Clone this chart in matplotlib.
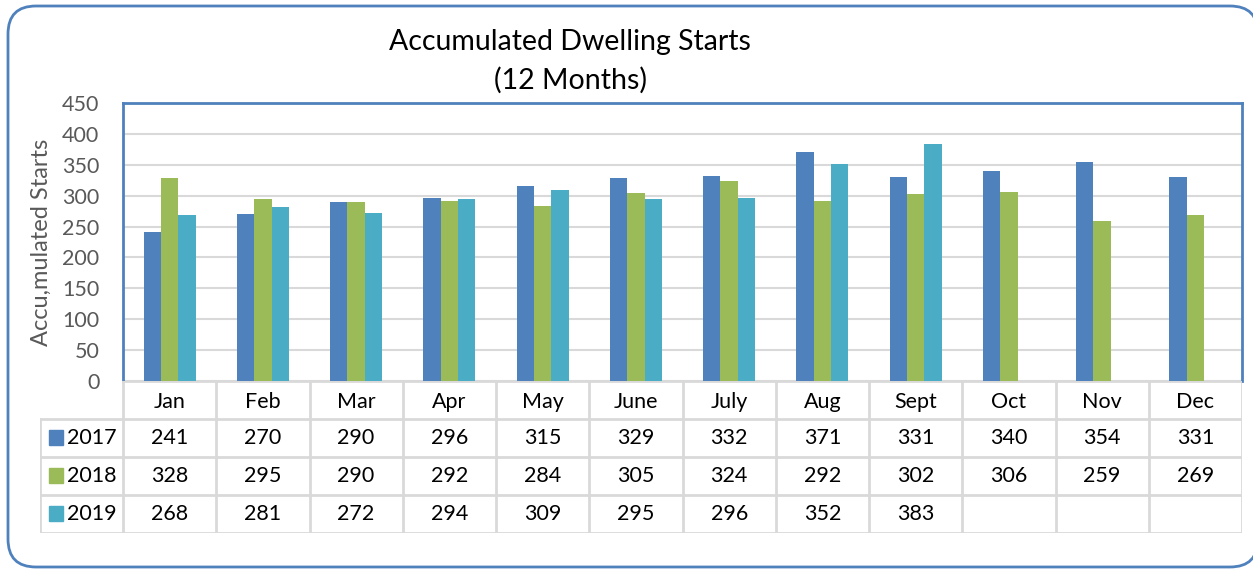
import matplotlib
matplotlib.use("Agg")
import matplotlib.pyplot as plt
import numpy as np
from matplotlib.patches import FancyBboxPatch, Rectangle

months = ["Jan", "Feb", "Mar", "Apr", "May", "June", "July", "Aug", "Sept", "Oct", "Nov", "Dec"]
years = ["2017", "2018", "2019"]
starts_2017 = [241, 270, 290, 296, 315, 329, 332, 371, 331, 340, 354, 331]
starts_2018 = [328, 295, 290, 292, 284, 305, 324, 292, 302, 306, 259, 269]
starts_2019 = [268, 281, 272, 294, 309, 295, 296, 352, 383, None, None, None]
colors = ["#4F81BD", "#9BBB59", "#4BACC6"]

W, H = 1253, 569
plt.rcParams["font.family"] = ["Lato", "DejaVu Sans"]
fig = plt.figure(figsize=(W / 100, H / 100), dpi=100)


def fx(px):
    return px / W


def fy(py):
    return 1 - py / H


# background axes in pixel units for the rounded outer frame
bg = fig.add_axes([0, 0, 1, 1], zorder=-1)
bg.set_xlim(0, W)
bg.set_ylim(H, 0)
bg.axis("off")
bg.add_patch(FancyBboxPatch((8, 6), 1250, 561,
                            boxstyle="round,pad=0,rounding_size=28",
                            facecolor="white", edgecolor="#4F81BD", linewidth=2))

# main plot
ax = fig.add_axes([fx(123), fy(381), fx(1242) - fx(123), fy(103) - fy(381)])
x = np.arange(len(months))
bw = 0.185
series = [starts_2017, starts_2018, starts_2019]
for i, vals in enumerate(series):
    v = [np.nan if a is None else a for a in vals]
    ax.bar(x + (i - 1) * bw, v, width=bw, color=colors[i], zorder=3)

ax.set_xlim(-0.5, 11.5)
ax.set_ylim(0, 450)
ax.set_yticks(range(0, 451, 50))
ax.tick_params(axis="y", length=0, labelsize=15.5, labelcolor="#595959", pad=17)
ax.set_xticks([])
ax.grid(axis="y", color="#D9D9D9", linewidth=1.5, zorder=0)
for s in ["left", "top", "right"]:
    ax.spines[s].set_color("#4F81BD")
    ax.spines[s].set_linewidth(2)
ax.spines["bottom"].set_visible(False)
ax.set_ylabel("Accu,mulated Starts", fontsize=17, color="#595959")
ax.yaxis.set_label_coords((fx(52) - fx(123)) / (fx(1242) - fx(123)), 0.5)

fig.text(fx(570), fy(42), "Accumulated Dwelling Starts", ha="center", va="center", fontsize=20.5)
fig.text(fx(570), fy(80), "(12 Months)", ha="center", va="center", fontsize=20.5)

# data table
label_w = (123 - 40) / ((1242 - 123) / 12)
tab = fig.add_axes([fx(40), fy(533), fx(1242) - fx(40), fy(381) - fy(533)])
tab.set_xlim(-0.5 - label_w, 11.5)
tab.set_ylim(4, 0)
tab.axis("off")
grid_kw = dict(color="#D9D9D9", linewidth=2, solid_capstyle="projecting")
# horizontal lines
for r in range(1, 5):
    tab.plot([-0.5 - label_w, 11.5], [r, r], **grid_kw)
tab.plot([-0.5, 11.5], [0, 0], **grid_kw)
# vertical lines
tab.plot([-0.5 - label_w] * 2, [1, 4], **grid_kw)
for c in range(13):
    tab.plot([c - 0.5] * 2, [0, 4], **grid_kw)

fs = 15.5
for j, m in enumerate(months):
    tab.text(j, 0.55, m, ha="center", va="center", fontsize=fs)
for i, vals in enumerate(series):
    r = i + 1.5
    tab.add_patch(Rectangle((-0.5 - label_w + 0.1, r - 0.22), 0.15, 0.4,
                            color=colors[i], transform=tab.transData))
    tab.text(-0.5 - label_w + 0.29, r, years[i], ha="left", va="center", fontsize=fs)
    for j, v in enumerate(vals):
        if v is not None:
            tab.text(j, r, str(v), ha="center", va="center", fontsize=fs)

fig.savefig("out.png", dpi=100)
